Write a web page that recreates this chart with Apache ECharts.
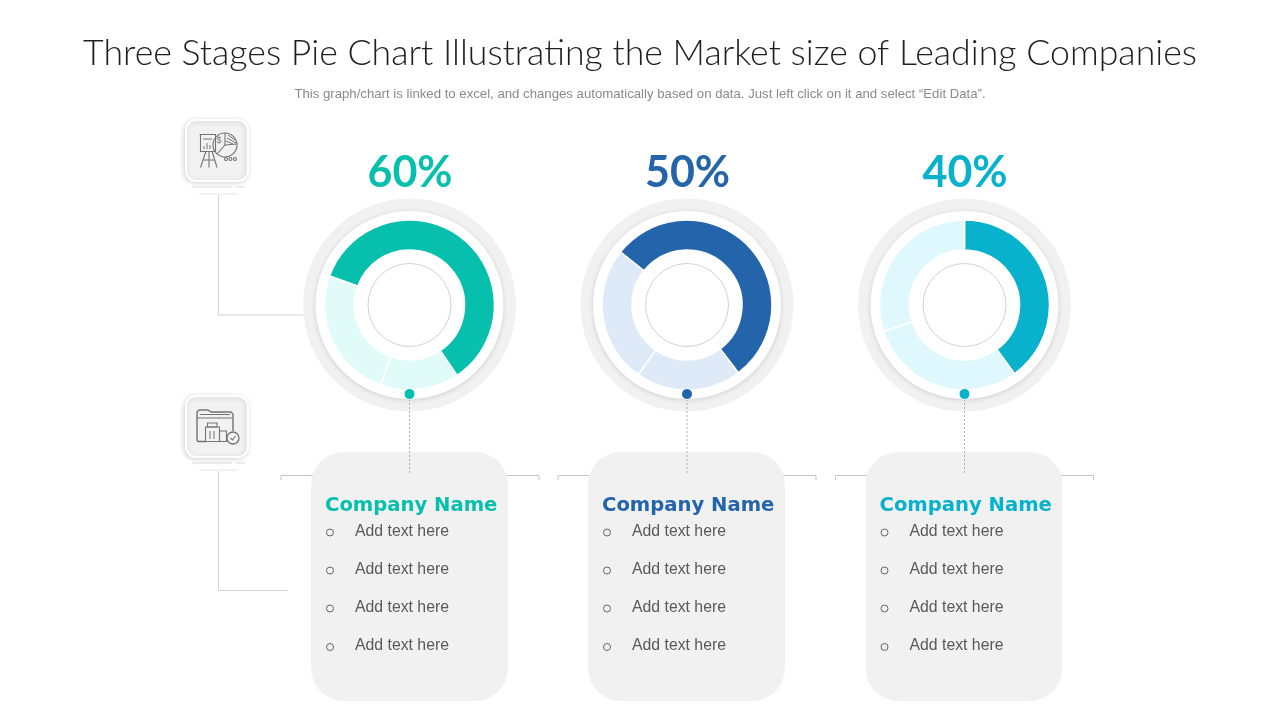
<!DOCTYPE html>
<html>
<head>
<meta charset="utf-8">
<style>html,body{margin:0;padding:0;background:#fff}#chart{width:1280px;height:720px}</style>
<script src="https://cdn.jsdelivr.net/npm/echarts@6/dist/echarts.min.js"></script>
</head>
<body>
<div id="chart"></div>
<script>
var titleText = 'Three Stages Pie Chart Illustrating the Market size of Leading Companies';
var subText = 'This graph/chart is linked to excel, and changes automatically based on data. Just left click on it and select \u201CEdit Data\u201D.';
var companies = ['Company Name', 'Company Name', 'Company Name'];
var percentLabels = ['60%', '50%', '40%'];
var itemLabels = ['Add text here', 'Add text here', 'Add text here', 'Add text here'];
var sliceNames = ['Main', 'Rest A', 'Rest B'];
var values1 = [60, 15, 25];
var values2 = [54, 20, 26];
var values3 = [40, 30, 30];
var startAngles = [160, 141.5, 90];
var darkColors = ['#06BFAD', '#2364AB', '#08B1CC'];
var lightColors = ['#E0FBF8', '#DFEAF8', '#DFF8FE'];

var centersX = [409.5, 687, 964.5];
var cardsX = [311, 588, 865.5];
var cy = 305;
var allValues = [values1, values2, values3];
var iconGray = '#747474';
var graphic = [];

function line(x1, y1, x2, y2, color, dash) {
    graphic.push({
        type: 'line', silent: true,
        shape: {x1: x1, y1: y1, x2: x2, y2: y2},
        style: {stroke: color || '#d4d4d4', lineWidth: 1, lineDash: dash || null}
    });
}
function txt(x, y, text, font, color, align) {
    graphic.push({
        type: 'text', silent: true, x: x, y: y,
        style: {text: text, font: font, fill: color, align: align || 'left', verticalAlign: 'middle'}
    });
}
function stroked(type, shape) {
    graphic.push({
        type: type, silent: true, shape: shape,
        style: {fill: 'none', stroke: iconGray, lineWidth: 1.1}
    });
}
function iconTile(y) {
    graphic.push({
        type: 'rect', silent: true,
        shape: {x: 186, y: y, width: 62, height: 61, r: 10},
        style: {fill: '#F2F2F2', stroke: '#fff', lineWidth: 2, shadowBlur: 5, shadowColor: 'rgba(0,0,0,0.16)', shadowOffsetX: -1, shadowOffsetY: 1}
    });
    line(192, y + 67, 232, y + 67, '#d9d9d9');
    line(236, y + 67, 245, y + 67, '#d9d9d9');
    line(199, y + 74, 238, y + 74, '#e6e6e6');
}

// connectors on the left
line(218.5, 195, 218.5, 315);
line(218.5, 315, 304, 315);
line(218.5, 471, 218.5, 590.5);
line(218.5, 590.5, 288, 590.5);
iconTile(120);
iconTile(396);

// easel + pie icon
stroked('rect', {x: 200.5, y: 134.5, width: 15, height: 17});
line(199.5, 134.5, 216, 134.5, iconGray);
stroked('polyline', {points: [[206, 151], [200.5, 167.5]]});
stroked('polyline', {points: [[212, 151], [217, 167.5]]});
stroked('polyline', {points: [[209, 151], [209, 167.5]]});
line(203, 160, 215, 160, iconGray);
line(204, 149, 204, 146, iconGray);
line(207, 149, 207, 143, iconGray);
line(210, 149, 210, 145, iconGray);
line(203, 139, 212, 139, iconGray);
stroked('circle', {cx: 225, cy: 145, r: 12});
stroked('polyline', {points: [[225, 145], [225, 133]]});
stroked('polyline', {points: [[225, 145], [237, 144]]});
stroked('polyline', {points: [[225, 145], [217, 154]]});
line(228, 135, 235, 140, iconGray);
line(227, 138, 236, 143, iconGray);
line(226, 141, 233, 144, iconGray);
txt(219, 141, '$', '9px "Liberation Sans"', iconGray, 'center');
stroked('circle', {cx: 226, cy: 159, r: 1.5});
stroked('circle', {cx: 230.5, cy: 159, r: 1.5});
stroked('circle', {cx: 235, cy: 159, r: 1.5});

// folder + bins icon
graphic.push({
    type: 'polyline', silent: true,
    shape: {points: [[206, 441.5], [198, 441.5], [197, 440], [197, 412], [199, 410], [208, 410], [211, 412], [231, 412], [233, 414], [233, 431]]},
    style: {fill: 'none', stroke: iconGray, lineWidth: 1.4}
});
line(197, 418, 233, 418, iconGray);
line(200, 414.5, 230, 414.5, iconGray);
stroked('rect', {x: 205.5, y: 427, width: 14, height: 14.5});
stroked('rect', {x: 207.5, y: 423, width: 9.5, height: 4});
stroked('rect', {x: 219.5, y: 431, width: 7, height: 10.5});
line(210, 431, 210, 439, iconGray);
line(214, 431, 214, 439, iconGray);
graphic.push({
    type: 'circle', silent: true, shape: {cx: 233, cy: 438, r: 6},
    style: {fill: '#F2F2F2', stroke: iconGray, lineWidth: 1.3}
});
stroked('polyline', {points: [[230.5, 438], [232.5, 440], [235.5, 436]]});

centersX.forEach(function (cx, i) {
    var color = darkColors[i];
    var cardX = cardsX[i];

    // rings behind the donut
    graphic.push({type: 'circle', silent: true, shape: {cx: cx, cy: cy, r: 106.5}, style: {fill: '#F1F1F1'}});
    graphic.push({
        type: 'circle', silent: true, shape: {cx: cx, cy: cy, r: 94},
        style: {fill: '#fff', shadowBlur: 5, shadowColor: 'rgba(0,0,0,0.14)', shadowOffsetY: 1}
    });
    graphic.push({
        type: 'circle', silent: true, shape: {cx: cx, cy: cy, r: 41.5},
        style: {fill: '#fff', stroke: '#d2d2d2', lineWidth: 1}
    });

    txt(cx + 0.5, 173, percentLabels[i], 'bold 43px Lato', color, 'center');

    // brackets and card
    line(cardX - 30, 475.5, cardX + 228, 475.5, '#c4c4c4');
    line(cardX - 30, 475.5, cardX - 30, 480, '#c4c4c4');
    line(cardX + 228, 475.5, cardX + 228, 480, '#c4c4c4');
    graphic.push({
        type: 'rect', silent: true,
        shape: {x: cardX, y: 452, width: 197, height: 249, r: 33},
        style: {fill: '#F1F1F1'}
    });
    line(cx, 399, cx, 474, '#aeaeae', [2, 2]);
    // dot sits on top of the pie series
    graphic.push({
        type: 'circle', silent: true, z: 10, shape: {cx: cx, cy: 394, r: 5.5},
        style: {fill: color, stroke: '#fff', lineWidth: 1}
    });

    txt(cardX + 14, 506, companies[i], 'bold 19.6px "DejaVu Sans"', color);
    var rowY = [531.5, 569.5, 607.5, 646];
    itemLabels.forEach(function (label, k) {
        graphic.push({
            type: 'circle', silent: true,
            shape: {cx: cardX + 19, cy: rowY[k] + 1, r: 3.5},
            style: {fill: 'none', stroke: '#666', lineWidth: 1}
        });
        txt(cardX + 44, rowY[k], label, '15.8px "Liberation Sans"', '#595959');
    });
});

var chart = echarts.init(document.getElementById('chart'));
chart.setOption({
    animation: false,
    backgroundColor: '#fff',
    title: {
        text: titleText,
        subtext: subText,
        left: 'center',
        top: 30,
        itemGap: 17,
        textStyle: {fontFamily: 'Lato', fontWeight: 300, fontSize: 35.7, color: '#1f1f1f'},
        subtextStyle: {fontFamily: 'Liberation Sans', fontSize: 13.2, color: '#8a8a8a'}
    },
    graphic: graphic,
    series: allValues.map(function (vals, i) {
        return {
            type: 'pie',
            silent: true,
            center: [centersX[i], cy],
            radius: [55, 85],
            startAngle: startAngles[i],
            label: {show: false},
            labelLine: {show: false},
            itemStyle: {borderColor: '#fff', borderWidth: 1.5},
            data: vals.map(function (v, k) {
                return {name: sliceNames[k], value: v, itemStyle: {color: k === 0 ? darkColors[i] : lightColors[i]}};
            })
        };
    })
});
</script>
</body>
</html>
